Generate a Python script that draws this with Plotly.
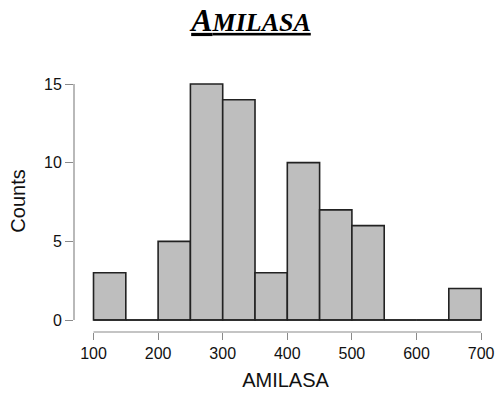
import plotly.graph_objects as go

bin_edges = [100, 150, 200, 250, 300, 350, 400, 450, 500, 550, 600, 650, 700]
counts = [3, 0, 5, 15, 14, 3, 10, 7, 6, 0, 0, 2]
x_ticks = [100, 200, 300, 400, 500, 600, 700]
y_ticks = [0, 5, 10, 15]

x_range = [69.8, 724.6]
y_range = [-0.763, 15.89]

centers = [(a + b) / 2 for a, b in zip(bin_edges[:-1], bin_edges[1:])]
widths = [b - a for a, b in zip(bin_edges[:-1], bin_edges[1:])]

axis_col = "#8a8a8a"

fig = go.Figure()
fig.add_trace(go.Bar(
    x=centers, y=counts, width=widths,
    marker=dict(color="#bebebe", line=dict(color="#222222", width=1.6)),
    showlegend=False, hoverinfo="skip",
))
# baseline across the whole histogram range (zero-count bins)
fig.add_trace(go.Scatter(
    x=[bin_edges[0], bin_edges[-1]], y=[0, 0], mode="lines",
    line=dict(color="#222222", width=1.6), showlegend=False, hoverinfo="skip",
))

fig.update_layout(
    width=497, height=396,
    margin=dict(l=74, r=0, t=70, b=64),
    paper_bgcolor="white", plot_bgcolor="white",
    font=dict(family="Liberation Sans, Arial, sans-serif", size=16, color="#111111"),
    title=dict(
        text="<b><i><u>A<span style='font-size:26px'>MILASA</span></u></i></b>",
        font=dict(family="Liberation Serif, Times New Roman, serif", size=32, color="black"),
        x=0.505, xanchor="center", y=0.922, yanchor="bottom",
    ),
    xaxis=dict(
        range=x_range, tickvals=x_ticks, ticks="outside", ticklen=7,
        tickcolor=axis_col, tickwidth=1.2, showgrid=False, zeroline=False,
        showline=False, title=dict(text="AMILASA", font=dict(size=20), standoff=11),
    ),
    yaxis=dict(
        range=y_range, tickvals=y_ticks, ticks="outside", ticklen=8,
        tickcolor=axis_col, tickwidth=1.2, showgrid=False, zeroline=False,
        showline=False, title=dict(text="Counts", font=dict(size=20), standoff=13),
    ),
    shapes=[
        dict(type="line", xref="x", yref="paper", x0=x_ticks[0], x1=x_ticks[-1],
             y0=0, y1=0, line=dict(color=axis_col, width=1.2)),
        dict(type="line", xref="paper", yref="y", x0=0, x1=0,
             y0=y_ticks[0], y1=y_ticks[-1], line=dict(color=axis_col, width=1.2)),
    ],
)
fig.write_html("out.html")
